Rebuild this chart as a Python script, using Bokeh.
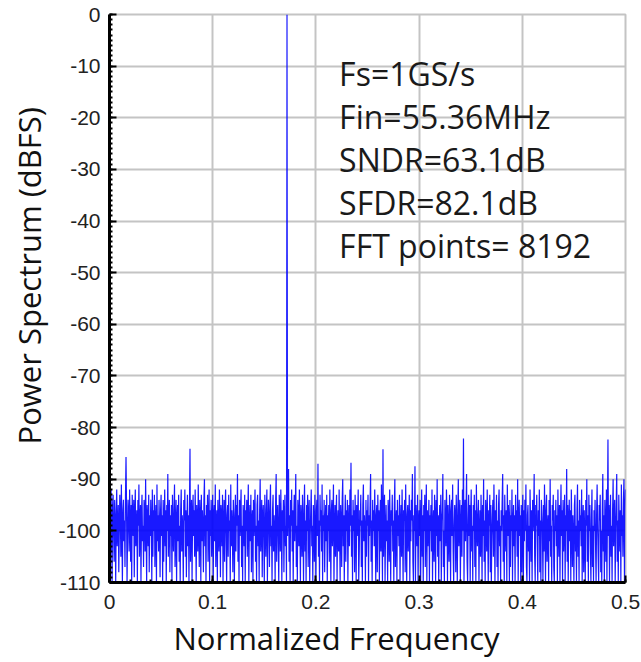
import numpy as np
from bokeh.plotting import figure
from bokeh.models import Range1d, FixedTicker, Label, Title
from bokeh.embed import file_html
from bokeh.resources import INLINE

# Output spectrum of the ADC, one value per frequency bin (dBFS), from DC to Fs/2
power_dbfs = [
    -87, -96, -104, -92, -99, -110, -95, -93, -101, -106, -94, -98, -110, -97, -92, -103, -99, -95, -108, -100,
    -93, -97, -105, -91, -100, -110, -96, -94, -102, -98, -107, -93, -85.7, -95, -110, -101, -94, -97, -104, -92,
    -99, -106, -95, -110, -93, -98, -101, -94, -109, -97, -92, -103, -100, -96, -110, -94, -99, -91, -105, -98,
    -95, -110, -97, -93, -102, -99, -107, -94, -96, -104, -90, -100, -110, -95, -98, -103, -93, -108, -97, -101,
    -94, -99, -110, -92, -105, -96, -100, -93, -107, -98, -95, -110, -91, -102, -97, -104, -94, -99, -109, -96,
    -93, -101, -97, -110, -94, -106, -99, -92, -103, -96, -110, -95, -100, -89, -105, -98, -94, -108, -97, -101,
    -95, -110, -93, -99, -104, -96, -91, -107, -100, -94, -110, -98, -95, -102, -93, -106, -99, -110, -96, -92,
    -104, -97, -100, -110, -94, -98, -92, -105, -96, -109, -99, -93, -103, -97, -110, -95, -84.1, -106, -99, -94,
    -110, -97, -93, -101, -96, -105, -92, -99, -110, -95, -98, -104, -91, -100, -107, -94, -97, -110, -93, -102,
    -96, -99, -108, -94, -90, -103, -97, -110, -95, -100, -93, -106, -98, -92, -110, -96, -101, -94, -105, -99,
    -93, -110, -97, -95, -102, -91, -107, -99, -96, -110, -94, -100, -104, -92, -98, -109, -95, -97, -103, -93,
    -110, -99, -94, -106, -96, -92, -101, -110, -97, -95, -105, -93, -100, -98, -110, -91, -103, -96, -99, -108,
    -94, -97, -110, -100, -93, -104, -95, -99, -89, -106, -97, -110, -94, -101, -96, -92, -107, -99, -110, -95,
    -98, -103, -93, -110, -96, -100, -94, -105, -97, -91, -110, -99, -95, -102, -93, -108, -98, -96, -110, -94,
    -101, -97, -92, -106, -99, -110, -95, -93, -103, -98, -110, -96, -90, -104, -100, -94, -109, -97, -95, -101,
    -110, -93, -99, -105, -96, -92, -110, -100, -94, -98, -107, -95, -91, -103, -99, -110, -96, -93, -104, -97,
    -100, -110, -94, -89, -106, -98, -95, -101, -110, -93, -97, -104, -92, -99, -110, -96, -100, -94, -108, -97,
    -93, -103, -99, -110, 0, -101, -95, -88, -106, -97, -110, -94, -99, -92, -104, -96, -110, -98, -93, -102,
    -96, -89, -107, -99, -110, -94, -97, -103, -92, -100, -110, -95, -98, -105, -93, -99, -110, -96, -91, -104,
    -98, -110, -95, -100, -93, -107, -97, -94, -110, -101, -96, -92, -103, -99, -110, -95, -98, -106, -93, -100,
    -110, -96, -94, -101, -87, -105, -98, -110, -93, -99, -96, -104, -91, -110, -97, -100, -94, -108, -99, -95,
    -102, -93, -110, -97, -100, -95, -106, -92, -99, -110, -96, -94, -103, -98, -91, -110, -100, -95, -105, -97,
    -93, -110, -99, -96, -104, -92, -101, -110, -95, -98, -107, -94, -90, -103, -97, -110, -99, -93, -106, -96,
    -100, -94, -110, -98, -95, -103, -92, -99, -86.8, -105, -97, -110, -94, -100, -96, -108, -93, -99, -110, -95,
    -101, -97, -92, -110, -104, -96, -99, -93, -107, -98, -110, -95, -91, -102, -97, -100, -110, -94, -105, -96,
    -99, -93, -110, -97, -101, -95, -89, -106, -98, -110, -94, -100, -96, -103, -92, -99, -110, -97, -95, -108,
    -93, -100, -96, -110, -98, -94, -104, -91, -99, -110, -84.2, -105, -97, -93, -110, -100, -95, -102, -98, -110,
    -94, -97, -106, -92, -100, -110, -96, -99, -93, -104, -98, -110, -95, -90, -107, -99, -96, -110, -94, -101,
    -97, -103, -93, -110, -99, -95, -105, -92, -100, -110, -96, -98, -94, -108, -91, -101, -110, -97, -95, -104,
    -99, -93, -110, -96, -102, -94, -98, -89, -106, -110, -97, -100, -87.5, -110, -95, -99, -103, -93, -110, -98,
    -96, -101, -94, -110, -99, -92, -105, -97, -110, -95, -100, -93, -107, -98, -91, -110, -96, -103, -99, -94,
    -110, -97, -100, -95, -104, -92, -110, -99, -96, -106, -93, -98, -110, -94, -101, -90, -105, -97, -110, -99,
    -95, -102, -93, -110, -98, -96, -89, -107, -100, -110, -94, -99, -103, -92, -97, -110, -95, -100, -106, -93,
    -98, -110, -96, -94, -101, -91, -104, -110, -99, -95, -97, -108, -93, -100, -110, -96, -90, -103, -98, -94,
    -110, -99, -95, -105, -92, -100, -82.1, -110, -97, -94, -102, -96, -89, -106, -110, -98, -93, -101, -95, -110,
    -97, -92, -104, -99, -110, -95, -100, -93, -107, -96, -110, -91, -99, -103, -97, -94, -110, -100, -96, -105,
    -93, -99, -110, -95, -101, -90, -106, -98, -110, -94, -97, -104, -92, -100, -110, -96, -99, -93, -108, -95,
    -110, -101, -97, -94, -105, -91, -99, -110, -96, -100, -93, -107, -98, -110, -95, -92, -103, -99, -110, -96,
    -100, -94, -89, -106, -97, -110, -93, -99, -104, -96, -110, -91, -101, -95, -98, -110, -94, -107, -97, -100,
    -92, -110, -99, -95, -103, -97, -110, -93, -100, -96, -105, -90, -110, -98, -94, -101, -97, -110, -95, -108,
    -99, -93, -110, -96, -102, -94, -100, -91, -107, -110, -97, -95, -104, -99, -110, -92, -98, -106, -96, -110,
    -94, -100, -97, -89, -105, -110, -95, -99, -93, -103, -110, -96, -101, -92, -108, -98, -110, -94, -97, -100,
    -110, -95, -104, -91, -99, -110, -96, -93, -106, -100, -97, -110, -94, -102, -90, -105, -99, -110, -95, -98,
    -93, -107, -110, -96, -100, -94, -103, -97, -110, -92, -99, -105, -95, -110, -98, -91, -101, -96, -110, -94,
    -104, -99, -93, -110, -97, -100, -88, -106, -95, -110, -98, -94, -102, -96, -110, -92, -99, -107, -97, -101,
    -110, -95, -93, -104, -99, -110, -96, -91, -105, -98, -110, -94, -100, -97, -103, -92, -110, -99, -95, -108,
    -96, -101, -110, -94, -99, -90, -106, -97, -110, -93, -100, -95, -104, -110, -98, -92, -107, -99, -110, -96,
    -100, -94, -103, -110, -97, -91, -99, -105, -110, -95, -98, -93, -108, -100, -110, -96, -89, -104, -97, -110,
    -94, -99, -106, -92, -110, -97, -82.3, -101, -95, -110, -98, -93, -105, -99, -110, -96, -90, -103, -97, -94,
    -110, -100, -95, -89, -106, -98, -110, -93, -99, -104, -96, -110, -91, -101, -97, -105, -94, -90, -110, -96,
    -92,
]

x_ticks = [0, 0.1, 0.2, 0.3, 0.4, 0.5]
x_tick_labels = ["0", "0.1", "0.2", "0.3", "0.4", "0.5"]
y_ticks = [0, -10, -20, -30, -40, -50, -60, -70, -80, -90, -100, -110]
y_tick_labels = ["0", "-10", "-20", "-30", "-40", "-50", "-60", "-70", "-80", "-90", "-100", "-110"]

notes = ["Fs=1GS/s", "Fin=55.36MHz", "SNDR=63.1dB", "SFDR=82.1dB", "FFT points= 8192"]

# normalized frequency of each bin
n_bins = len(power_dbfs)
freq = np.arange(n_bins) * 0.5 / (n_bins - 1)

p = figure(
    width=641, height=662,
    x_range=Range1d(0, 0.5), y_range=Range1d(-110, 0),
    output_backend="svg", toolbar_location=None,
    min_border_left=107, min_border_right=16,
    min_border_top=14, min_border_bottom=80,
)
p.background_fill_color = "white"
p.border_fill_color = "white"
p.outline_line_color = "#c4c4c4"
p.outline_line_width = 2

p.line(freq, power_dbfs, line_color="#0000ff", line_width=1.2, line_alpha=0.9)

# axes
p.xaxis.ticker = FixedTicker(ticks=x_ticks, minor_ticks=list(np.round(np.arange(0, 0.5001, 0.02), 3)))
p.yaxis.ticker = FixedTicker(ticks=y_ticks, minor_ticks=list(range(-110, 1)))
p.xaxis.major_label_overrides = dict(zip(x_ticks, x_tick_labels))
p.yaxis.major_label_overrides = dict(zip(y_ticks, y_tick_labels))

for ax in (p.xaxis, p.yaxis):
    ax.axis_line_color = "black"
    ax.axis_line_width = 3
    ax.major_tick_in = 7
    ax.major_tick_out = 0
    ax.minor_tick_in = 3
    ax.minor_tick_out = 0
    ax.major_tick_line_color = "black"
    ax.major_tick_line_width = 2
    ax.minor_tick_line_color = "black"
    ax.minor_tick_line_width = 2
    ax.major_label_text_font = "Liberation Sans"
    ax.major_label_text_font_size = "21px"
    ax.major_label_text_color = "#222222"
p.yaxis.major_label_standoff = 9
p.xaxis.major_label_standoff = 12

p.grid.grid_line_color = "#c4c4c4"
p.grid.grid_line_width = 2

# axis titles
p.add_layout(Title(
    text="Normalized Frequency", align="left", offset=64, standoff=6,
    text_font="Open Sans", text_font_size="31px", text_font_style="normal",
    text_color="#111111",
), "below")
p.add_layout(Title(
    text="Power Spectrum (dBFS)", align="left", offset=138, standoff=11,
    text_font="Open Sans", text_font_size="31px", text_font_style="normal",
    text_color="#111111",
), "left")

# measurement summary
for i, note in enumerate(notes):
    p.add_layout(Label(
        x=0.2225, y=-11.4 - 8.33 * i, text=note,
        text_align="left", text_baseline="middle",
        text_font="Open Sans", text_font_size="32px", text_color="#1a1a1a",
    ))

open("out.html", "w").write(file_html(p, INLINE))
